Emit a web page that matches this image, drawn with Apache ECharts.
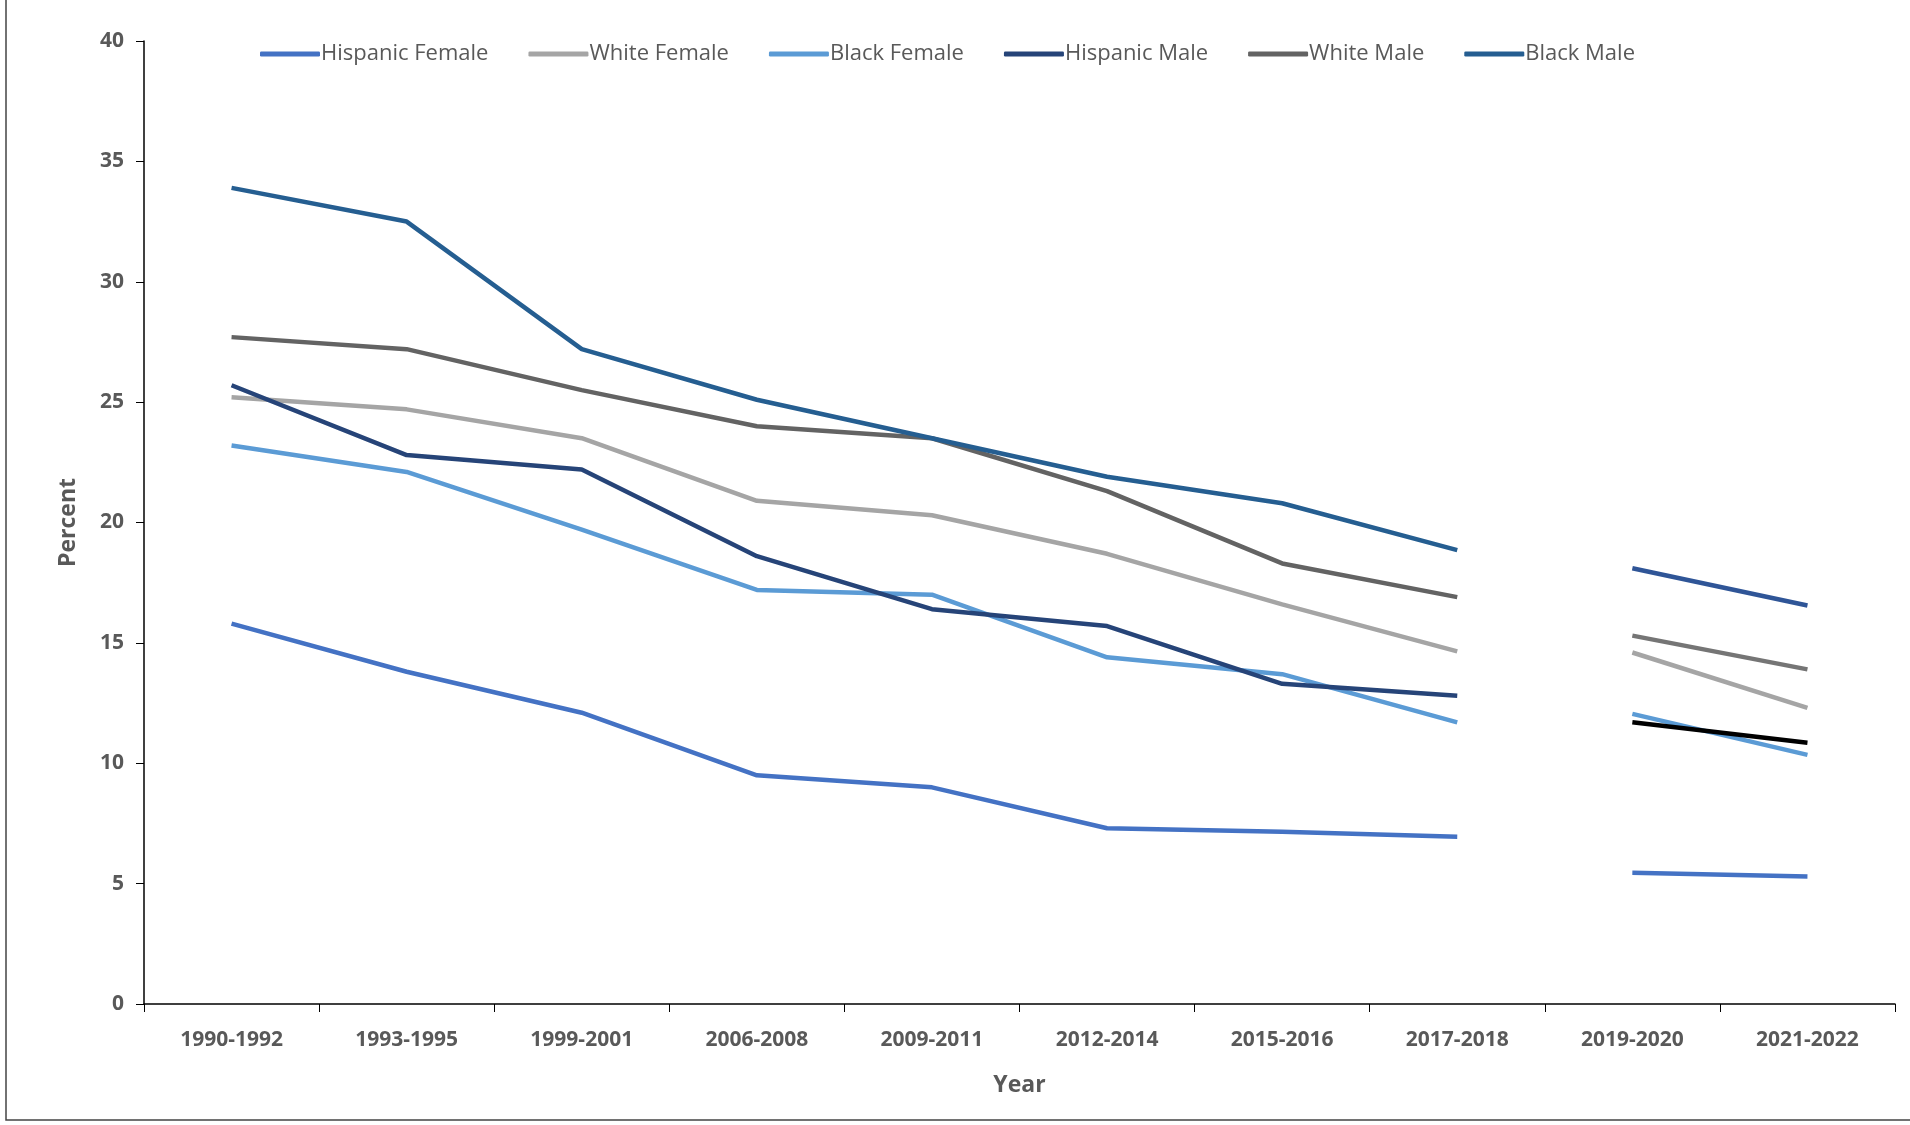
<!DOCTYPE html>
<html><head><meta charset="utf-8">
<script src="https://cdn.jsdelivr.net/npm/echarts@6/dist/echarts.min.js"></script>
<style>html,body{margin:0;padding:0;background:#fff}#c{width:1910px;height:1125px}</style>
</head><body><div id="c"></div>
<script>
var years = ['1990-1992','1993-1995','1999-2001','2006-2008','2009-2011','2012-2014','2015-2016','2017-2018','2019-2020','2021-2022'];
var hispanicFemale = [15.8, 13.8, 12.1, 9.5, 9.0, 7.3, 7.15, 6.95, 5.45, 5.3];
var whiteFemale    = [25.2, 24.7, 23.5, 20.9, 20.3, 18.7, 16.6, 14.65, 14.6, 12.3];
var blackFemale    = [23.2, 22.1, 19.7, 17.2, 17.0, 14.4, 13.7, 11.7, 12.05, 10.35];
var hispanicMale   = [25.7, 22.8, 22.2, 18.6, 16.4, 15.7, 13.3, 12.8, 11.7, 10.85];
var whiteMale      = [27.7, 27.2, 25.5, 24.0, 23.5, 21.3, 18.3, 16.9, 15.3, 13.9];
var blackMale      = [33.9, 32.5, 27.2, 25.1, 23.5, 21.9, 20.8, 18.85, 18.1, 16.55];

var groups = [
  ['Hispanic Female', hispanicFemale, '#4472C4', '#4472C4'],
  ['White Female', whiteFemale, '#A5A5A5', '#A5A5A5'],
  ['Black Female', blackFemale, '#5B9BD5', '#5B9BD5'],
  ['Hispanic Male', hispanicMale, '#264478', '#000000'],
  ['White Male', whiteMale, '#636363', '#757575'],
  ['Black Male', blackMale, '#255E91', '#2F5597']
];
var series = [];
groups.forEach(function(g){
  var first = g[1].map(function(v,i){ return i < 8 ? v : null; });
  var second = g[1].map(function(v,i){ return i >= 8 ? v : null; });
  series.push({name:g[0], type:'line', data:first, symbol:'none', lineStyle:{width:4.5, color:g[2]}, itemStyle:{color:g[2]}});
  series.push({name:g[0], type:'line', data:second, symbol:'none', lineStyle:{width:4.5, color:g[3]}, itemStyle:{color:g[2]}});
});

var chart = echarts.init(document.getElementById('c'));
chart.setOption({
  animation:false,
  graphic:[{type:'rect', shape:{x:6,y:-2,width:1920,height:1122}, style:{fill:'none', stroke:'#444', lineWidth:1.5}}],
  legend:{top:38, left:255, itemWidth:60, itemHeight:5, itemGap:40, icon:'roundRect',
    data:groups.map(function(g){return g[0];}),
    textStyle:{fontSize:22, color:'#595959', fontFamily:'Open Sans', padding:[0,0,0,-4]}},
  grid:{left:144, right:15, top:41, bottom:121},
  xAxis:{type:'category', data:years, boundaryGap:true, name:'Year', nameLocation:'middle', nameGap:70,
    nameTextStyle:{fontSize:23, fontWeight:'bold', color:'#595959', fontFamily:'Open Sans'},
    axisLine:{lineStyle:{color:'#000', width:1.5}},
    axisTick:{show:true, inside:false, length:8, lineStyle:{color:'#000'}},
    axisLabel:{fontSize:21, fontWeight:'bold', color:'#595959', margin:26, fontFamily:'Open Sans'}},
  yAxis:{type:'value', min:0, max:40, interval:5, name:'Percent', nameLocation:'middle', nameGap:64,
    nameTextStyle:{fontSize:23, fontWeight:'bold', color:'#595959', fontFamily:'Open Sans'},
    axisLine:{show:true, lineStyle:{color:'#000', width:1.5}},
    axisTick:{show:true, length:8, lineStyle:{color:'#000'}},
    splitLine:{show:false},
    axisLabel:{fontSize:21, fontWeight:'bold', color:'#595959', margin:20, fontFamily:'Open Sans'}},
  series:series
});
</script></body></html>
